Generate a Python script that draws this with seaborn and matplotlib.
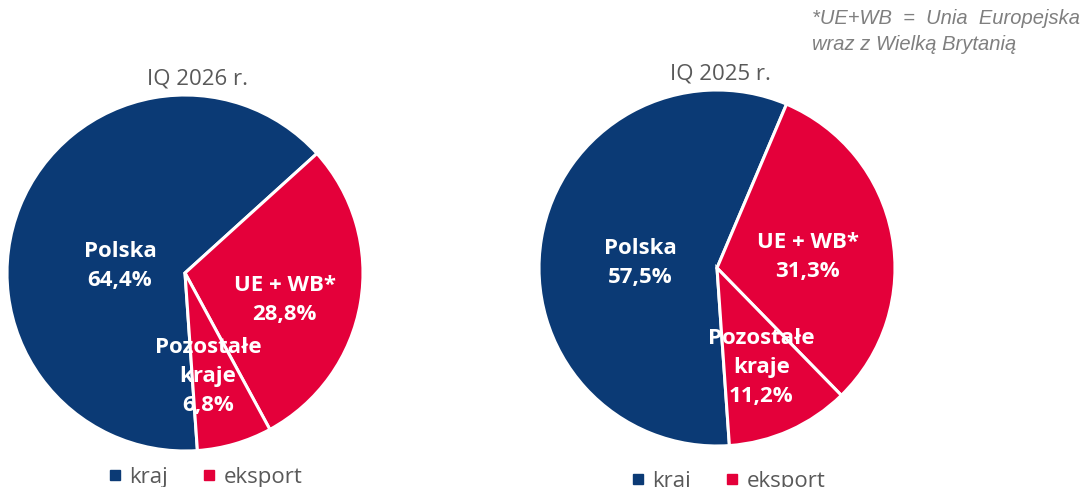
import matplotlib
matplotlib.use("Agg")
import matplotlib.pyplot as plt
from matplotlib.lines import Line2D
import seaborn as sns

# ---- data ----
categories = ["Polska", "UE + WB*", "Pozostałe\nkraje"]
values_2026 = [64.4, 28.8, 6.8]
values_2025 = [57.5, 31.3, 11.2]
titles = ["IQ 2026 r.", "IQ 2025 r."]
legend_labels = ["kraj", "eksport"]
note_lines = ["*UE+WB  =  Unia  Europejska", "wraz z Wielką Brytanią"]

sns.set_theme(style="white")
plt.rcParams["font.family"] = ["Open Sans", "DejaVu Sans"]

NAVY = "#0B3A75"
RED = "#E4003A"
slice_colors = [NAVY, RED, RED]

fig = plt.figure(figsize=(10.88, 4.87), dpi=100)
W, H = 1088, 487

def add_ax(cx, cy, r):
    ax = fig.add_axes([(cx - r) / W, (H - cy - r) / H, 2 * r / W, 2 * r / H])
    ax.axis("off")
    return ax

ax1 = add_ax(185, 273, 178)
ax2 = add_ax(717, 268, 178)

label_offsets = [
    [(-0.365, 0.04), (0.56, -0.15), (0.13, -0.58)],
    [(-0.43, 0.03), (0.51, 0.06), (0.25, -0.56)],
]
title_offsets = [(0.07, 1.09), (0.02, 1.09)]
legend_anchor = [(0.555, -0.02), (0.53, -0.045)]

for i, (ax, vals) in enumerate(zip([ax1, ax2], [values_2026, values_2025])):
    ax.pie(vals, colors=slice_colors, startangle=-86, counterclock=False,
           radius=1.0, wedgeprops=dict(edgecolor="white", linewidth=2.2))
    ax.set_xlim(-1, 1)
    ax.set_ylim(-1, 1)
    ax.set_aspect("equal")
    for cat, v, (dx, dy) in zip(categories, vals, label_offsets[i]):
        txt = f"{cat}\n{v:.1f}%".replace(".", ",")
        ax.text(dx, dy, txt, ha="center", va="center", color="white",
                fontsize=16, fontweight="bold", linespacing=1.5)
    tx, ty = title_offsets[i]
    ax.text(tx, ty, titles[i], ha="center", va="center", color="#595959",
            fontsize=16, transform=ax.transData)
    handles = [Line2D([], [], marker="s", linestyle="", color=c, markersize=7.5)
               for c in [NAVY, RED]]
    leg = ax.legend(handles, legend_labels, loc="upper center",
                    bbox_to_anchor=legend_anchor[i], ncol=2, frameon=False,
                    fontsize=16, handlelength=0.7, handletextpad=0.3,
                    columnspacing=1.5, borderaxespad=0.0)
    for t in leg.get_texts():
        t.set_color("#595959")

for k, (line, ypix) in enumerate(zip(note_lines, [18, 45])):
    fig.text(812 / W, 1 - ypix / H, line, ha="left", va="center",
             fontsize=14.5, style="italic", color="#7F7F7F",
             family=["Liberation Sans", "DejaVu Sans"])

fig.savefig("out.png", dpi=100)
